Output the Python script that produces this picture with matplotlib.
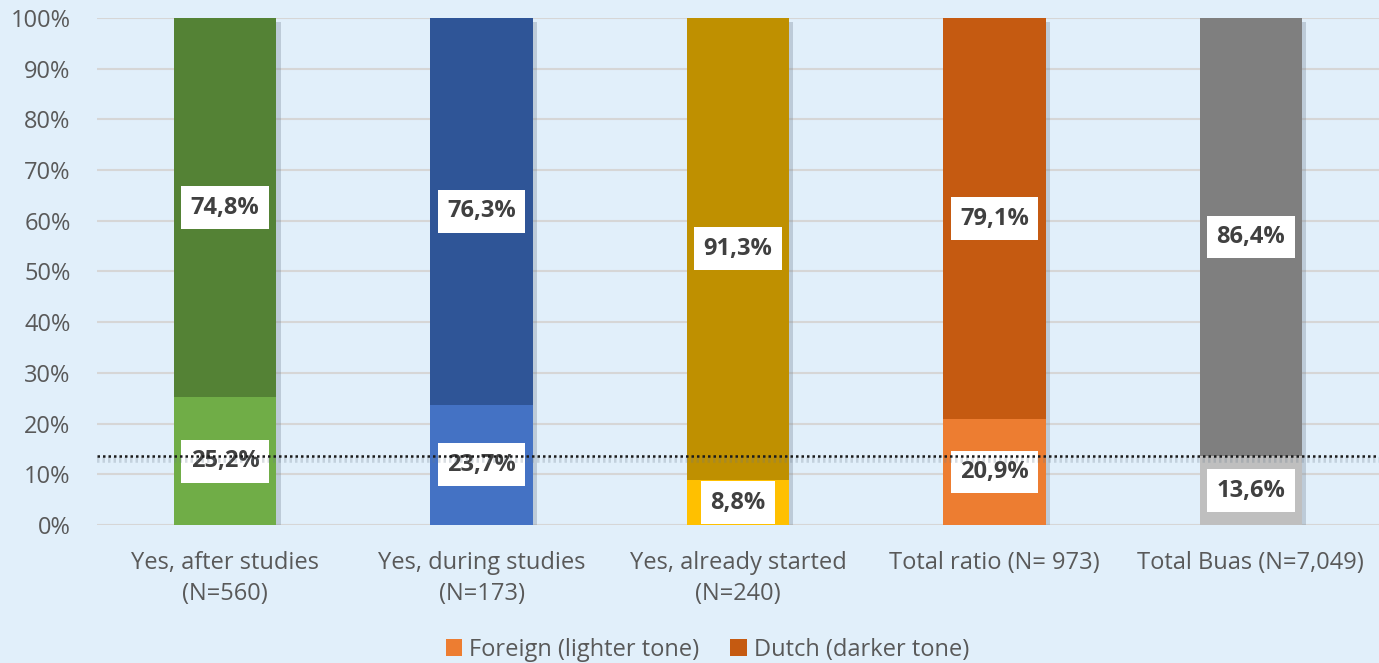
import matplotlib
matplotlib.use("Agg")
import matplotlib.pyplot as plt
import matplotlib.patheffects as pe
from matplotlib.patches import Patch
import numpy as np

plt.rcParams['font.family'] = ['Open Sans', 'DejaVu Sans']

categories = ["Yes, after studies\n(N=560)", "Yes, during studies\n(N=173)",
              "Yes, already started\n(N=240)", "Total ratio (N= 973)",
              "Total Buas (N=7,049)"]
foreign = [25.2, 23.7, 8.8, 20.9, 13.6]
dutch = [74.8, 76.3, 91.3, 79.1, 86.4]
light_colors = ["#70AD47", "#4472C4", "#FFC000", "#ED7D31", "#BFBFBF"]
dark_colors = ["#548235", "#2F5597", "#BF9000", "#C55A11", "#7F7F7F"]
legend_labels = ["Foreign (lighter tone)", "Dutch (darker tone)"]
yticks = list(range(0, 101, 10))

bg = "#E1EFFA"
fig = plt.figure(figsize=(13.79, 6.63), dpi=100, facecolor=bg)
ax = fig.add_axes([0.0703, 0.2081, 0.9297, 0.7648], facecolor=bg)

x = np.arange(len(categories))
w = 0.4
shadow = [pe.SimplePatchShadow(offset=(3, -3), shadow_rgbFace="#6A7A8A", alpha=0.3), pe.Normal()]

for i in range(len(categories)):
    b1 = ax.bar(x[i], dutch[i], w, bottom=foreign[i], color=dark_colors[i], zorder=3)
    for p in b1:
        p.set_path_effects(shadow)
    b2 = ax.bar(x[i], foreign[i], w, color=light_colors[i], zorder=3)
    for p in b2:
        p.set_path_effects(shadow)

def fmt(v):
    return f"{v:.1f}".replace(".", ",") + "%"

box = dict(boxstyle="square,pad=0.4", facecolor="white", edgecolor="none")
for i in range(len(categories)):
    ax.text(x[i], foreign[i] / 2, fmt(foreign[i]), ha="center", va="center",
            fontsize=17, fontweight="bold", color="#404040", bbox=box, zorder=5)
    ax.text(x[i], foreign[i] + dutch[i] / 2, fmt(dutch[i]), ha="center", va="center",
            fontsize=17, fontweight="bold", color="#404040", bbox=box, zorder=5)

ax.axhline(foreign[4], color="#1a1a1a", linestyle=(0, (1, 1.2)), linewidth=1.8, zorder=6,
           path_effects=[pe.SimpleLineShadow(offset=(0, -3), shadow_color="#6A7A8A", alpha=0.25, linewidth=4), pe.Normal()])

ax.set_xlim(-0.5, 4.5)
ax.set_ylim(0, 100)
ax.set_yticks(yticks)
ax.set_yticklabels([f"{t}%" for t in yticks])
ax.set_xticks(x)
ax.set_xticklabels(categories, linespacing=1.35)
ax.tick_params(axis="both", length=0, labelsize=17, colors="#595959")
ax.tick_params(axis="x", pad=19)
ax.tick_params(axis="y", pad=19)
for lbl in ax.get_yticklabels():
    lbl.set_horizontalalignment("right")
ax.grid(axis="y", color="#D6D6D6", linewidth=1.5, zorder=0)
ax.set_axisbelow(True)
for s in ax.spines.values():
    s.set_visible(False)

handles = [Patch(facecolor="#ED7D31"), Patch(facecolor="#C55A11")]
fig.legend(handles, legend_labels, loc="center", bbox_to_anchor=(0.513, 0.02), ncol=2,
           frameon=False, fontsize=17, labelcolor="#595959", handlelength=0.7,
           handleheight=0.7, handletextpad=0.3, columnspacing=1.3)

fig.savefig("out.png", dpi=100, facecolor=bg)
